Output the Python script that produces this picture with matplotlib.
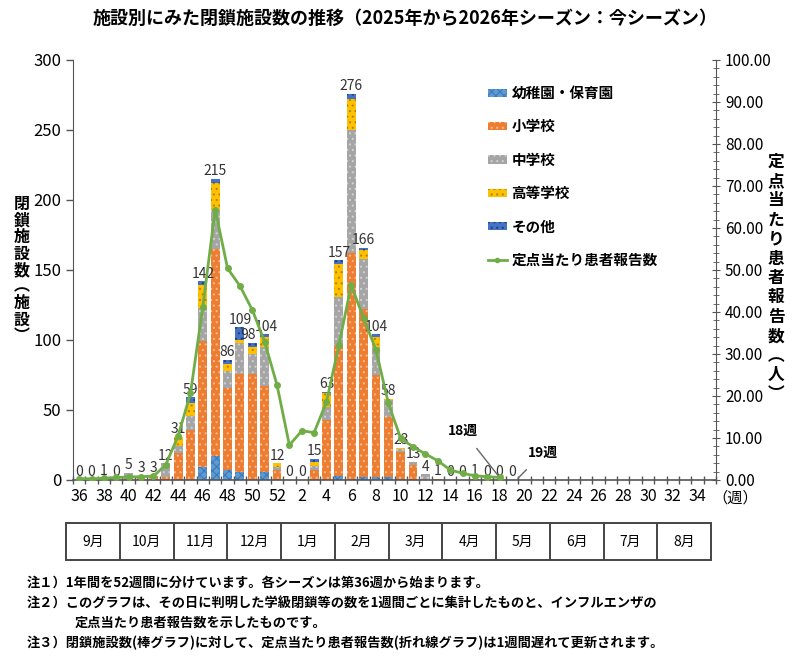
import numpy as np
import matplotlib
matplotlib.use("Agg")
import matplotlib.pyplot as plt
from matplotlib.patches import Patch, Rectangle
from matplotlib.lines import Line2D
from matplotlib.ticker import MultipleLocator, FixedLocator, FuncFormatter

plt.rcParams['font.family'] = ['Noto Sans CJK JP', 'DejaVu Sans']
plt.rcParams['hatch.linewidth'] = 0.8

# weeks of the season (36..52, 1..35)
weeks = list(range(36, 53)) + list(range(1, 36))

# closed facilities per week (weeks 36 .. 19)
kinder = [0, 0, 0, 0, 0, 0, 0, 0, 0, 0, 9, 17, 7, 6, 0, 6, 0,
          0, 0, 0, 0, 3, 1, 2, 2, 2, 1, 0, 0, 0, 0, 0, 0, 0, 0, 0]
elementary = [0, 0, 0, 0, 1, 3, 3, 2, 19, 36, 90, 148, 59, 70, 76, 61, 7,
              0, 0, 7, 43, 93, 161, 120, 73, 43, 19, 11, 0, 1, 0, 0, 0, 0, 0, 0]
junior = [0, 0, 1, 0, 4, 0, 0, 10, 5, 10, 24, 28, 12, 22, 14, 28, 2,
          0, 0, 3, 9, 35, 88, 36, 20, 12, 2, 2, 4, 0, 0, 0, 0, 0, 0, 0]
high = [0, 0, 0, 0, 0, 0, 0, 0, 7, 9, 16, 19, 5, 2, 5, 7, 3,
        0, 0, 3, 10, 23, 22, 6, 7, 1, 1, 0, 0, 0, 0, 0, 1, 0, 0, 0]
other = [0, 0, 0, 0, 0, 0, 0, 0, 0, 4, 3, 3, 3, 9, 3, 2, 0,
         0, 0, 2, 1, 3, 4, 2, 2, 0, 0, 0, 0, 0, 0, 0, 0, 0, 0, 0]

# patients per sentinel (weeks 36 .. 18)
per_sentinel = [0.3, 0.3, 0.4, 0.6, 0.7, 0.8, 0.9, 3.6, 10.5, 20.6, 41.3, 64.4, 50.4,
                46.2, 40.5, 32.9, 22.6, 8.3, 11.7, 11.3, 18.6, 32.1, 46.4, 38.5, 31.0,
                18.3, 9.9, 7.9, 6.2, 4.6, 2.4, 1.6, 1.0, 0.8, 0.6]

months = ['9月', '10月', '11月', '12月', '1月', '2月', '3月', '4月', '5月', '6月', '7月', '8月']

series = [
    ('幼稚園・保育園', kinder, '#5B9BD5', '#3F78B5', 'xxxx'),
    ('小学校', elementary, '#ED7D31', '#F7B88E', '...'),
    ('中学校', junior, '#A5A5A5', '#CFCFCF', '...'),
    ('高等学校', high, '#FFC000', '#B08600', '...'),
    ('その他', other, '#4472C4', '#22407A', '...'),
]

narrow = ['Liberation Sans Narrow', 'Noto Sans CJK JP', 'DejaVu Sans']

fig = plt.figure(figsize=(8, 6.57), dpi=100)
ax = fig.add_axes([73 / 800, 1 - 480 / 657, 643 / 800, 420 / 657])

n = len(kinder)
x = np.arange(n)
bottom = np.zeros(n)
handles = []
for name, vals, col, hcol, hatch in series:
    vals = np.array(vals)
    ax.bar(x, vals, 0.72, bottom=bottom, color=col, edgecolor=hcol,
           linewidth=0, hatch=hatch, zorder=2)
    bottom += vals
    handles.append(Patch(facecolor=col, edgecolor=hcol, hatch=hatch, linewidth=0, label=name))

# small nudges so "98" and "104" do not collide
nudge = {14: -3, 15: 1}
for xi, tot in zip(x, bottom):
    ax.annotate(str(int(tot)), (xi, tot), xytext=(nudge.get(xi, 0), 0.5), textcoords='offset points',
                ha='center', va='bottom', fontsize=10, color='#333333', zorder=5,
                family=narrow)

ax.set_xlim(-0.5, len(weeks) - 0.5)
ax.set_ylim(0, 300)
ax.yaxis.set_major_locator(MultipleLocator(50))
ax.tick_params(axis='y', labelsize=12, length=5, width=1, color='#555555')
ax.xaxis.set_major_locator(FixedLocator(np.arange(0, len(weeks), 2)))
ax.set_xticklabels([str(w) for w in weeks[::2]], fontsize=11.5)
ax.xaxis.set_minor_locator(FixedLocator(np.arange(-0.5, len(weeks), 1)))
ax.tick_params(axis='x', which='major', length=0, pad=6)
ax.tick_params(axis='x', which='minor', length=6, direction='inout', width=1, color='#555555')
for s in ['top', 'right']:
    ax.spines[s].set_visible(False)
ax.spines['left'].set_color('#555555')
ax.spines['bottom'].set_color('#555555')
ax.spines['bottom'].set_linewidth(1.2)

ax2 = ax.twinx()
ax2.plot(np.arange(len(per_sentinel)), per_sentinel, color='#70AD47', linewidth=2,
         marker='o', markersize=4, zorder=4)
ax2.set_ylim(0, 100)
ax2.yaxis.set_major_locator(MultipleLocator(10))
ax2.yaxis.set_minor_locator(MultipleLocator(2))
ax2.yaxis.set_major_formatter(FuncFormatter(lambda v, p: '{:.2f}'.format(v)))
ax2.tick_params(axis='y', which='major', labelsize=11, length=6, direction='inout', color='#555555')
ax2.tick_params(axis='y', which='minor', length=4, direction='inout', color='#555555')
for s in ['top', 'left', 'bottom']:
    ax2.spines[s].set_visible(False)
ax2.spines['right'].set_color('#555555')

ax2.annotate('18週', xy=(34, per_sentinel[34]), xytext=(463, 657 - 431), textcoords='figure pixels',
             ha='center', va='center', fontsize=10, fontweight='bold',
             arrowprops=dict(arrowstyle='-', color='#666666', lw=1, shrinkA=7, shrinkB=1))
ax.annotate('19週', xy=(35.4, 0.5), xytext=(543, 657 - 453), textcoords='figure pixels',
            ha='center', va='center', fontsize=10, fontweight='bold',
            arrowprops=dict(arrowstyle='-', color='#666666', lw=1, shrinkA=7, shrinkB=1))

handles.append(Line2D([], [], color='#70AD47', linewidth=2, marker='o', markersize=3,
                      label='定点当たり患者報告数'))
fig.legend(handles=handles, loc='upper left', bbox_to_anchor=(488 / 800, 1 - 85 / 657),
           frameon=False, borderpad=0, borderaxespad=0, handlelength=1.3, handleheight=0.5,
           handletextpad=0.3, labelspacing=1.19,
           prop={'family': ['Noto Sans CJK JP', 'DejaVu Sans'], 'weight': 'bold', 'size': 10.5})

fig.text(405 / 800, 1 - 18 / 657,
         '施設別にみた閉鎖施設数の推移（2025年から2026年シーズン：今シーズン）',
         ha='center', va='center', fontsize=13, fontweight='bold')
fig.text(22 / 800, 1 - 270 / 657, '\n'.join('閉鎖施設数︵施設︶'), ha='center', va='center',
         fontsize=11.5, fontweight='bold', linespacing=1.04)
fig.text(776 / 800, 1 - 278 / 657, '\n'.join('定点当たり患者報告数︵人︶'), ha='center', va='center',
         fontsize=12, fontweight='bold', linespacing=1.1)
fig.text(735 / 800, 1 - 498 / 657, '（週）', ha='center', va='center', fontsize=11)

# month boxes
axm = fig.add_axes([66 / 800, 1 - 560 / 657, 645 / 800, 37 / 657])
axm.set_xlim(0, 12)
axm.set_ylim(0, 1)
axm.axis('off')
axm.add_patch(Rectangle((0, 0), 12, 1, fill=False, edgecolor='#444444', linewidth=1.4, clip_on=False))
for i, m in enumerate(months):
    if i > 0:
        axm.plot([i, i], [0, 1], color='#444444', linewidth=1.4)
    axm.text(i + 0.5, 0.5, m, ha='center', va='center', fontsize=10)

notes = [
    (27, 583, '注１）1年間を52週間に分けています。各シーズンは第36週から始まります。'),
    (27, 604, '注２）このグラフは、その日に判明した学級閉鎖等の数を1週間ごとに集計したものと、インフルエンザの'),
    (75, 623, '定点当たり患者報告数を示したものです。'),
    (27, 643, '注３）閉鎖施設数(棒グラフ)に対して、定点当たり患者報告数(折れ線グラフ)は1週間遅れて更新されます。'),
]
for nx, ny, t in notes:
    fig.text(nx / 800, 1 - ny / 657, t, ha='left', va='center', fontsize=9.5, fontweight='bold')

fig.savefig('out.png', dpi=100)
